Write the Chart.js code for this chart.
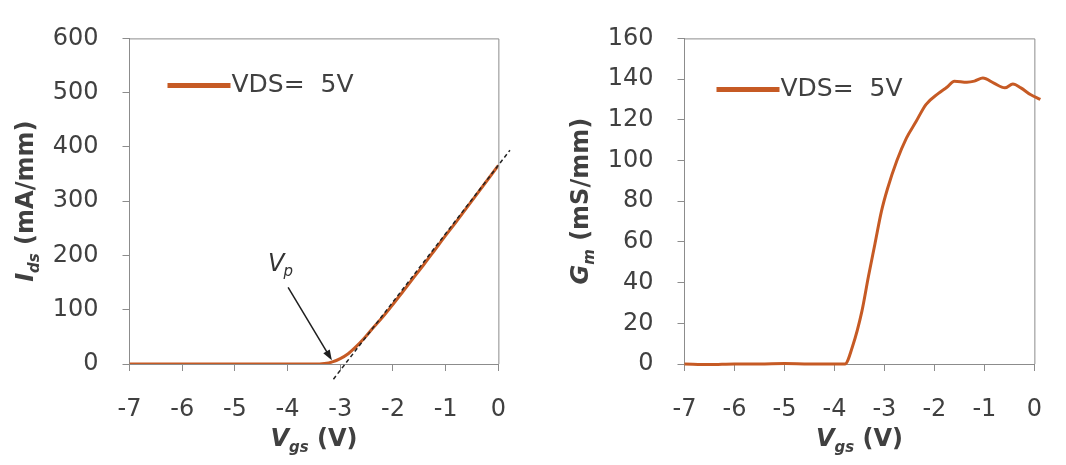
<!DOCTYPE html>
<html lang="en">
<head>
<meta charset="UTF-8">
<title>Ids and Gm versus Vgs</title>
<script src="https://cdn.jsdelivr.net/npm/chart.js@4.4.1/dist/chart.umd.min.js"></script>
<style>
    body { margin: 0; background: #fff; width: 1066px; height: 465px; overflow: hidden; position: relative; }
    .box { position: absolute; top: 0; height: 465px; }
</style>
</head>
<body>
<div class="box" style="left:0;width:530px"><canvas id="idsChart" width="530" height="465"></canvas></div>
<div class="box" style="left:530px;width:536px"><canvas id="gmChart" width="536" height="465"></canvas></div>
<script>
// drain current vs gate voltage, VDS = 5V
var vgsIds = [-7, -6, -5, -4, -3.5, -3.3, -3.15, -3.0, -2.85, -2.7, -2.55, -2.4, -2.2, -2.0, -1.8, -1.6, -1.4, -1.2, -1.0, -0.8, -0.6, -0.4, -0.2, 0];
var ids    = [0, 0, 0, 0, 0, 1, 4, 10, 19, 32, 47, 64, 86, 110, 135, 160, 185, 211, 237, 262, 288, 314, 340, 366];

// dashed tangent used to read the pinch-off voltage
var tangentVgs = [-3.13, 0.22];
var tangentIds = [-28, 394];

// transconductance vs gate voltage
var vgsGm = [-7, -6.5, -6, -5.5, -5, -4.5, -4, -3.79, -3.64, -3.45, -3.32, -3.19, -3.06, -2.94, -2.75, -2.56, -2.37, -2.17, -1.92, -1.75, -1.6, -1.35, -1.2, -1.03, -0.81, -0.59, -0.43, -0.27, -0.08, 0.12];
var gm     = [0, -0.3, 0, 0, 0.2, 0, 0, 0, 8.5, 26, 43, 59, 75, 86, 100, 111, 119, 127.5, 133, 136, 139, 138.5, 139, 140.5, 138, 135.7, 137.6, 135.7, 132.4, 130];

var vgsTicks = [-7, -6, -5, -4, -3, -2, -1, 0];
var idsTicks = [0, 100, 200, 300, 400, 500, 600];
var gmTicks  = [0, 20, 40, 60, 80, 100, 120, 140, 160];

var FONT = "'DejaVu Sans', sans-serif";
var ORANGE = '#c65a24';
var AXIS = '#8c8c8c';
var TICK = '#404040';

function pts(xs, ys) {
    return xs.map(function (x, i) { return {x: x, y: ys[i]}; });
}

function richText(ctx, parts, x, y) {
    var w = 0;
    parts.forEach(function (p) { ctx.font = p[1]; w += ctx.measureText(p[0]).width; });
    var cx = x - w / 2;
    parts.forEach(function (p) {
        ctx.font = p[1];
        ctx.fillText(p[0], cx, y + p[2]);
        cx += ctx.measureText(p[0]).width;
    });
}

function decorations(cfg) {
    return {
        id: 'decor',
        beforeDatasetsDraw: function (chart) {
            var a = chart.chartArea, ctx = chart.ctx;
            ctx.save();
            ctx.strokeStyle = AXIS;
            ctx.lineWidth = 1;
            ctx.beginPath();
            ctx.moveTo(a.left, a.top + 0.5);
            ctx.lineTo(a.right + 0.5, a.top + 0.5);
            ctx.lineTo(a.right + 0.5, a.bottom);
            ctx.stroke();
            ctx.restore();
        },
        afterDraw: function (chart) {
            var a = chart.chartArea, ctx = chart.ctx;
            var bold = 'bold 24px ' + FONT, boldIt = 'italic bold 24px ' + FONT, sub = 'italic bold 15px ' + FONT;
            ctx.save();
            ctx.fillStyle = TICK;
            ctx.textAlign = 'left';
            ctx.textBaseline = 'alphabetic';

            // x title
            richText(ctx, [['V', boldIt, 0], ['gs', sub, 6], [' (V)', bold, 0]], (a.left + a.right) / 2, 446);

            // y title
            ctx.save();
            ctx.translate(cfg.yTitleX, (a.top + a.bottom) / 2);
            ctx.rotate(-Math.PI / 2);
            richText(ctx, cfg.yTitle.map(function (p) {
                return [p[0], p[1] === 'b' ? bold : p[1] === 'bi' ? boldIt : sub, p[1] === 's' ? 6 : 0];
            }), 0, 0);
            ctx.restore();

            // legend
            var ly = a.top + cfg.legendDy;
            ctx.strokeStyle = ORANGE;
            ctx.lineWidth = 5;
            ctx.beginPath();
            ctx.moveTo(a.left + cfg.legendX, ly);
            ctx.lineTo(a.left + cfg.legendX + 63, ly);
            ctx.stroke();
            ctx.font = '25px ' + FONT;
            ctx.textBaseline = 'middle';
            ctx.fillText('VDS=  5V', a.left + cfg.legendX + 64, ly);

            // pinch-off arrow
            if (cfg.arrow) {
                var xs = chart.scales.x, ys = chart.scales.y;
                var x0 = xs.getPixelForValue(-3.99), y0 = ys.getPixelForValue(141);
                var x1 = xs.getPixelForValue(-3.16), y1 = ys.getPixelForValue(7);
                var ang = Math.atan2(y1 - y0, x1 - x0);
                ctx.strokeStyle = '#1e1e1e';
                ctx.fillStyle = '#1e1e1e';
                ctx.lineWidth = 1.5;
                ctx.beginPath();
                ctx.moveTo(x0, y0);
                ctx.lineTo(x1 - 6 * Math.cos(ang), y1 - 6 * Math.sin(ang));
                ctx.stroke();
                ctx.beginPath();
                ctx.moveTo(x1, y1);
                ctx.lineTo(x1 - 11 * Math.cos(ang - 0.35), y1 - 11 * Math.sin(ang - 0.35));
                ctx.lineTo(x1 - 11 * Math.cos(ang + 0.35), y1 - 11 * Math.sin(ang + 0.35));
                ctx.closePath();
                ctx.fill();
                ctx.fillStyle = '#333';
                ctx.textBaseline = 'alphabetic';
                ctx.textAlign = 'left';
                var vx = xs.getPixelForValue(-4.37), vy = ys.getPixelForValue(171);
                ctx.font = 'italic 24px ' + FONT;
                ctx.fillText('V', vx, vy);
                var vw = ctx.measureText('V').width;
                ctx.font = 'italic 15px ' + FONT;
                ctx.fillText('p', vx + vw - 1, vy + 5);
            }
            ctx.restore();
        }
    };
}

function axisOpts(ticks, extra) {
    var o = {
        type: 'linear',
        min: ticks[0],
        max: ticks[ticks.length - 1],
        afterBuildTicks: function (s) { s.ticks = ticks.map(function (v) { return {value: v}; }); },
        grid: {display: true, drawOnChartArea: false, drawTicks: true, tickLength: 7, color: AXIS, lineWidth: 1},
        border: {display: true, color: AXIS, width: 1},
        ticks: {font: {family: FONT, size: 24}, color: TICK, padding: 24, maxRotation: 0, autoSkip: false}
    };
    for (var k in extra) o[k] = extra[k];
    return o;
}

function makeChart(id, datasets, yTicks, cfg) {
    return new Chart(document.getElementById(id), {
        type: 'line',
        data: {datasets: datasets},
        options: {
            responsive: false,
            animation: false,
            layout: {padding: {top: cfg.top, right: cfg.right, left: 0, bottom: 0}},
            plugins: {legend: {display: false}, tooltip: {enabled: false}},
            elements: {point: {radius: 0}},
            scales: {
                x: axisOpts(vgsTicks, {afterFit: function (s) { s.height = 101; }}),
                y: axisOpts(yTicks, {afterFit: function (s) { s.width = cfg.yWidth; }})
            }
        },
        plugins: [decorations(cfg)]
    });
}

makeChart('idsChart', [
    {data: pts(tangentVgs, tangentIds), borderColor: '#222', borderWidth: 1.5, borderDash: [4, 3], clip: false, order: 0},
    {data: pts(vgsIds, ids), borderColor: ORANGE, borderWidth: 3, cubicInterpolationMode: 'monotone', order: 1}
], idsTicks, {
    top: 34, right: 27, yWidth: 129.5, yTitleX: 33,
    yTitle: [['I', 'bi'], ['ds', 's'], [' (mA/mm)', 'b']],
    legendX: 38, legendDy: 47, arrow: true
});

makeChart('gmChart', [
    {data: pts(vgsGm, gm), borderColor: ORANGE, borderWidth: 3, cubicInterpolationMode: 'monotone', clip: false}
], gmTicks, {
    top: 37, right: 14, yWidth: 154.5, yTitleX: 58,
    yTitle: [['G', 'bi'], ['m', 's'], [' (mS/mm)', 'b']],
    legendX: 32, legendDy: 51, arrow: false
});
</script>
</body>
</html>
